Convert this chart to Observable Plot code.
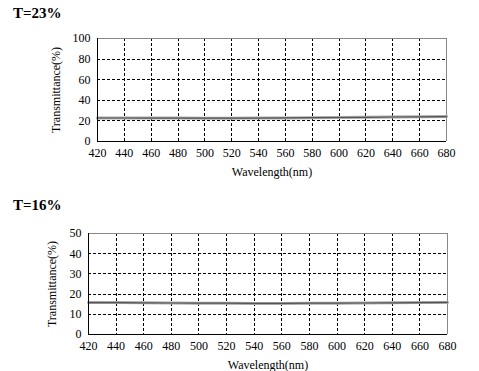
<!DOCTYPE html>
<html>
<head>
<meta charset="utf-8">
<script src="https://cdn.jsdelivr.net/npm/d3@7"></script>
<script src="https://cdn.jsdelivr.net/npm/@observablehq/plot@0.6"></script>
<style>
  html, body { margin: 0; padding: 0; background: #fff; }
  #page { position: relative; width: 479px; height: 371px; overflow: hidden; background: #fff; }
  .title { position: absolute; left: 13px; font: bold 15px/15px "Liberation Serif", "Times New Roman", serif; color: #000; white-space: nowrap; }
  .chart { position: absolute; left: 0; }
</style>
</head>
<body>
<div id="page">
  <div class="title" id="title1" style="top:6px"></div>
  <div class="chart" id="chart1" style="top:0px"></div>
  <div class="title" id="title2" style="top:198px"></div>
  <div class="chart" id="chart2" style="top:188px"></div>
</div>
<script>
// ---- data ----
const titles = ["T=23%", "T=16%"];
const wavelengths = [420, 440, 460, 480, 500, 520, 540, 560, 580, 600, 620, 640, 660, 680];
const trans23 = [22.8, 22.8, 22.7, 22.7, 22.6, 22.6, 22.7, 22.9, 23.1, 23.3, 23.5, 23.8, 24.0, 24.2];
const trans16 = [15.8, 15.8, 15.7, 15.6, 15.5, 15.5, 15.4, 15.4, 15.5, 15.5, 15.6, 15.7, 15.8, 15.9];
const xTicks = [420, 440, 460, 480, 500, 520, 540, 560, 580, 600, 620, 640, 660, 680];
const yTicks23 = [0, 20, 40, 60, 80, 100];
const yTicks16 = [0, 10, 20, 30, 40, 50];
const xLabel = "Wavelength(nm)";
const yLabel = "Transmittance(%)";

function makeChart(values, yTicks, opts) {
  const data = wavelengths.map((w, i) => ({w, t: values[i]}));
  const xDom = [xTicks[0], xTicks[xTicks.length - 1]];
  const yDom = [yTicks[0], yTicks[yTicks.length - 1]];
  const crisp = {shapeRendering: "crispEdges"};
  return Plot.plot({
    width: 479,
    height: opts.height,
    marginTop: opts.top,
    marginBottom: opts.bottom,
    marginLeft: opts.left,
    marginRight: opts.right,
    style: {fontFamily: '"Liberation Serif", "Times New Roman", serif', fontSize: "12px", color: "#000", background: "transparent"},
    x: {domain: xDom, ticks: xTicks, tickSize: 0, tickPadding: 7, tickFormat: d => String(d),
        label: xLabel, labelAnchor: "center", labelOffset: 34, labelArrow: "none"},
    y: {domain: yDom, ticks: yTicks, tickSize: 0, tickPadding: 7, tickFormat: d => String(d),
        label: yLabel, labelAnchor: "center", labelOffset: opts.yLabelOffset, labelArrow: "none"},
    marks: [
      Plot.gridX(xTicks.slice(1, -1), {stroke: "#000", strokeOpacity: 1, strokeDasharray: "3,2", ...crisp}),
      Plot.gridY(yTicks.slice(1, -1), {stroke: "#000", strokeOpacity: 1, strokeDasharray: "3,2", ...crisp}),
      Plot.ruleY([yDom[1]], {stroke: "#888", ...crisp}),
      Plot.ruleX([xDom[1]], {stroke: "#888", ...crisp}),
      Plot.line(data, {x: "w", y: "t", stroke: "#a8a8a8", strokeWidth: 3}),
      Plot.line(data, {x: "w", y: "t", stroke: "#555", strokeWidth: 1.2}),
      Plot.ruleY([yDom[0]], {stroke: "#000", ...crisp}),
      Plot.ruleX([xDom[0]], {stroke: "#000", ...crisp})
    ]
  });
}

document.getElementById("title1").textContent = titles[0];
document.getElementById("title2").textContent = titles[1];
document.getElementById("chart1").appendChild(
  makeChart(trans23, yTicks23, {height: 188, top: 38, bottom: 47, left: 97, right: 33, yLabelOffset: 46}));
document.getElementById("chart2").appendChild(
  makeChart(trans16, yTicks16, {height: 183, top: 45, bottom: 37, left: 88, right: 32, yLabelOffset: 41}));
</script>
</body>
</html>
